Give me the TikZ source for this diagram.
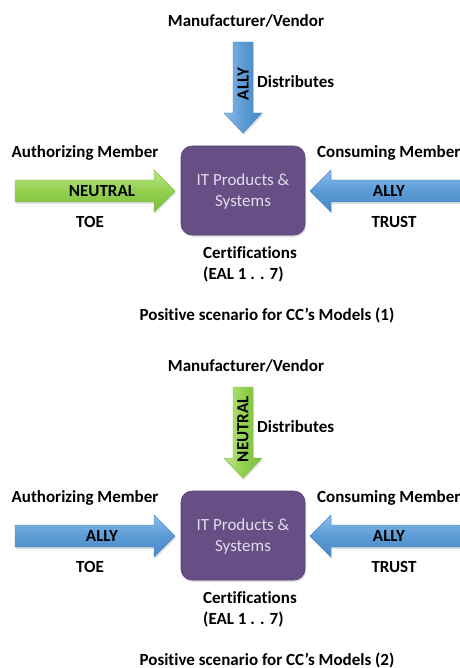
\documentclass[tikz,border=0pt]{standalone}
\usepackage{fontspec}
\setmainfont{Carlito}[Ligatures=NoCommon]
\usetikzlibrary{shadows}
\definecolor{allyblue}{HTML}{5B9BD5}
\definecolor{allybluelt}{HTML}{8CBCEA}
\definecolor{allybluedk}{HTML}{4A86C6}
\definecolor{neutgreen}{HTML}{92D050}
\definecolor{neutgreenlt}{HTML}{BDE68A}
\definecolor{neutgreendk}{HTML}{7DBB3A}
\definecolor{itpurple}{HTML}{674F86}
\definecolor{itpurpledk}{HTML}{5A4377}
\definecolor{itboxtext}{HTML}{E2DBEC}
\tikzset{
  lbl/.style={font=\fontsize{17}{18}\selectfont\bfseries, inner sep=0pt},
  boxtxt/.style={font=\fontsize{17}{21}\selectfont, text=itboxtext, align=center, inner sep=0pt},
  ally/.style={top color=allybluelt, bottom color=allybluedk, middle color=allyblue, draw=allybluedk, line width=0.4pt},
  neutral/.style={top color=neutgreenlt, bottom color=neutgreendk, middle color=neutgreen, draw=neutgreendk, line width=0.4pt},
  allyv/.style={left color=allybluelt, right color=allybluedk, middle color=allyblue, draw=allybluedk, line width=0.4pt},
  neutralv/.style={left color=neutgreenlt, right color=neutgreendk, middle color=neutgreen, draw=neutgreendk, line width=0.4pt},
  itbox/.style={rounded corners=11pt, fill=itpurple, draw=itpurpledk, line width=0.6pt,
    drop shadow={shadow xshift=1pt, shadow yshift=-2pt, opacity=0.25}},
  arrowshadow/.style={fill=black, opacity=0.12},
}
% One scenario: #1 vertical offset, #2/#3 style and label of the vendor arrow,
% #4/#5 style and label of the authorizing arrow, #6 scenario number
\newcommand{\ccpanel}[6]{%
\begin{scope}[yshift=-#1pt]
  % vendor arrow (points down)
  \path[arrowshadow] (234,44) -- (254,44) -- (254,115) -- (263,115) -- (244,135) -- (225,115) -- (234,115) -- cycle;
  \path[#2v] (233,42) -- (253,42) -- (253,113) -- (262,113) -- (243,133) -- (224,113) -- (233,113) -- cycle;
  \node[lbl, rotate=90] (vlab#6) at (243,84) {#3};
  % authorizing member arrow (points right)
  \path[arrowshadow] (16,182) -- (155,182) -- (155,172) -- (176,193) -- (155,214) -- (155,204) -- (16,204) -- cycle;
  \path[#4] (15,180) -- (154,180) -- (154,170) -- (175,191) -- (154,212) -- (154,202) -- (15,202) -- cycle;
  \node[lbl] (llab#6) at (102,191) {#5};
  % consuming member arrow (points left, runs off the right edge)
  \path[arrowshadow] (470,182) -- (332,182) -- (332,172) -- (311,193) -- (332,214) -- (332,204) -- (470,204) -- cycle;
  \path[ally] (470,180) -- (331,180) -- (331,170) -- (310,191) -- (331,212) -- (331,202) -- (470,202) -- cycle;
  \node[lbl] (rlab#6) at (389,191) {ALLY};
  % product box
  \path[itbox] (181,146) rectangle (305,235);
  \node[boxtxt] (it#6) at (243,191) {IT Products \&\\Systems};
  % captions
  \node[lbl] (mv#6) at (246,21) {Manufacturer/Vendor};
  \node[lbl, anchor=west] (dist#6) at (257,82) {Distributes};
  \node[lbl] (am#6) at (85,153) {Authorizing Member};
  \node[lbl, anchor=west] (cm#6) at (317,153) {Consuming Member};
  \node[lbl] (toe#6) at (90,222) {TOE};
  \node[lbl] (trust#6) at (394,222) {TRUST};
  \node[lbl, anchor=west] (cert#6) at (203,253) {Certifications};
  \node[lbl, anchor=west] (eal#6) at (203,274) {(EAL 1 . . 7)};
  \node[lbl] (cap#6) at (267,315) {Positive scenario for CC’s Models (#6)};
\end{scope}}
\begin{document}
\begin{tikzpicture}[x=1pt, y=-1pt]
  \useasboundingbox (0,0) rectangle (459,668);
  \fill[white] (0,0) rectangle (459,668);
  \ccpanel{0}{ally}{ALLY}{neutral}{NEUTRAL}{1}
  \ccpanel{345}{neutral}{NEUTRAL}{ally}{ALLY}{2}
\end{tikzpicture}
\end{document}
